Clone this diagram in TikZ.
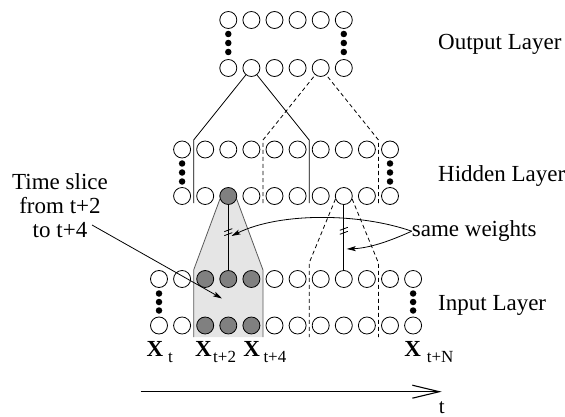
\documentclass[tikz,border=0pt]{standalone}
\usepackage{fontspec}
\setmainfont{Liberation Serif}
\usetikzlibrary{arrows.meta}
\pgfdeclarelayer{shade}
\pgfdeclarelayer{wires}
\pgfsetlayers{shade,wires,main}
\definecolor{actgrey}{RGB}{128,128,128}
\definecolor{slicefill}{RGB}{229,229,229}
\definecolor{sliceedge}{RGB}{90,90,90}

\begin{document}
\begin{tikzpicture}[x=1pt,y=-1pt,
  unit/.style={circle,draw,fill=white,line width=0.8pt,minimum size=17pt,inner sep=0pt},
  active/.style={unit,fill=actgrey},
  dotmark/.style={circle,fill=black,inner sep=0pt,minimum size=6.5pt},
  wire/.style={line width=0.8pt},
  dwire/.style={wire,dash pattern=on 4pt off 3pt},
  edge/.style={line width=0.8pt,draw=sliceedge},
  tip/.style={-{Stealth[length=9pt,width=5pt,inset=2pt]}},
  lbl/.style={font=\fontsize{23}{24}\selectfont,inner sep=0pt},
  xlbl/.style={font=\fontsize{23}{24}\selectfont\bfseries,inner sep=0pt,anchor=base},
  sublbl/.style={font=\fontsize{17}{18}\selectfont,inner sep=0pt,anchor=base west}]
\useasboundingbox (0,0) rectangle (565,417);

% ---------- input layer (12 time steps) ----------
\foreach \i/\s in {1/unit,2/unit,3/active,4/active,5/active,6/unit,7/unit,8/unit,9/unit,10/unit,11/unit,12/unit} {
  \pgfmathsetmacro\px{159+23.1*(\i-1)}
  \node[\s] (it\i) at (\px,279) {};
  \node[\s] (ib\i) at (\px,325.5) {};
}
% ---------- hidden layer ----------
\foreach \i/\s in {2/unit,3/unit,4/active,5/unit,6/unit,7/unit,8/unit,9/unit,10/unit,11/unit} {
  \pgfmathsetmacro\px{159+23.1*(\i-1)}
  \node[unit] (ht\i) at (\px,149.5) {};
  \node[\s] (hb\i) at (\px,196) {};
}
% ---------- output layer ----------
\foreach \i in {4,...,9} {
  \pgfmathsetmacro\px{159+23.1*(\i-1)}
  \node[unit] (ot\i) at (\px,20) {};
  \node[unit] (ob\i) at (\px,68) {};
}

% vertical ellipsis dots
\foreach \y in {293.5,302,310.5} {
  \node[dotmark] (di1-\y) at (159,\y) {};
  \node[dotmark] (di12-\y) at (413.1,\y) {};
}
\foreach \y in {163.5,172.5,181.5} {
  \node[dotmark] (dh2-\y) at (182.1,\y) {};
  \node[dotmark] (dh11-\y) at (390,\y) {};
}
\foreach \y in {34,43,52} {
  \node[dotmark] (do4-\y) at (228.3,\y) {};
  \node[dotmark] (do9-\y) at (343.8,\y) {};
}

% window boundaries in the hidden layer
\coordinate (hA1) at (193.65,140); \coordinate (hA2) at (193.65,203);
\coordinate (hB1) at (263,140);    \coordinate (hB2) at (263,203);
\coordinate (hC1) at (309.15,140); \coordinate (hC2) at (309.15,203);
\coordinate (hD1) at (378.45,140); \coordinate (hD2) at (378.45,203);

% window boundaries in the input layer
\coordinate (iA1) at (193.65,270); \coordinate (iA2) at (193.65,337);
\coordinate (iB1) at (263,270);    \coordinate (iB2) at (263,337);
\coordinate (iC1) at (309.15,263); \coordinate (iC2) at (309.15,337);
\coordinate (iD1) at (378.45,263); \coordinate (iD2) at (378.45,337);

% shaded time slice
\begin{pgfonlayer}{shade}
  \fill[slicefill] (iA2) -- (iA1) -- (hb4.200) -- (hb4.-20) -- (iB1) -- (iB2) -- cycle;
  \draw[edge] (iA2) -- (iA1) -- (hb4.200);
  \draw[edge] (iB2) -- (iB1) -- (hb4.-20);
\end{pgfonlayer}

\begin{pgfonlayer}{wires}
  % hidden windows feeding the output units
  \draw[wire] (hA2) -- (hA1) -- (ob5.center);
  \draw[wire] (hC2) -- (hC1) -- (ob5.center);
  \draw[dwire] (hB2) -- (hB1) -- (ob8.center);
  \draw[dwire] (hD2) -- (hD1) -- (ob8.center);
  % input windows feeding the hidden units
  \draw[dwire] (hb9.200) -- (iC1) -- (iC2);
  \draw[dwire] (hb9.-20) -- (iD1) -- (iD2);
  \draw[wire] (hb4) -- (it4);
  \draw[wire] (hb9) -- (it9);
\end{pgfonlayer}

% shared-weight tick marks
\path (hb4) -- (it4) coordinate[pos=0.41] (m4);
\path (hb9) -- (it9) coordinate[pos=0.39] (m9);
\foreach \m in {m4,m9} {
  \draw[wire] ([shift={(-4,0)}]\m) -- ([shift={(4,-3)}]\m);
  \draw[wire] ([shift={(-4,4)}]\m) -- ([shift={(4,1)}]\m);
}

% layer captions
\node[lbl,anchor=base west] (outlbl) at (438,49.3) {Output Layer};
\node[lbl,anchor=base west] (hidlbl) at (438,181.7) {Hidden Layer};
\node[lbl,anchor=base west] (inlbl) at (438,310) {Input Layer};

% time slice note
\node[lbl,align=center,anchor=north] (slice) at (60,173) {Time slice\\from t+2\\to t+4};
\coordinate (slicestart) at (92,225);
\coordinate (slicetip) at (222,298.5);
\draw[wire,tip] (slicestart) -- (slicetip);

% shared weights note
\node[lbl,anchor=base west] (sw) at (411.7,236.7) {same weights};
\coordinate (swtip1) at (231.5,236);
\coordinate (swtip2) at (346.7,249);
\draw[wire,tip] (sw.west) .. controls (360,213) and (280,212) .. (swtip1);
\draw[wire,tip] (sw.west) .. controls (390,241) and (370,248) .. (swtip2);

% time step labels
\node[xlbl] (x1) at (155,356.7) {X};
\node[sublbl] (x1s) at (168,362.5) {t};
\node[xlbl] (x3) at (203.4,356.7) {X};
\node[sublbl] (x3s) at (213,362.5) {t+2};
\node[xlbl] (x5) at (251.6,356.7) {X};
\node[sublbl] (x5s) at (263.3,362.5) {t+4};
\node[xlbl] (x12) at (412.6,356.7) {X};
\node[sublbl] (x12s) at (426.7,362.5) {t+N};

% time axis
\coordinate (t0) at (140.7,391.7);
\coordinate (t1) at (441.7,391.7);
\draw[line width=1.5pt,-{Straight Barb[length=27pt,width=13pt,line width=1.1pt]}] (t0) -- (t1);
\node[font=\fontsize{21}{22}\selectfont,inner sep=0pt,anchor=base] (tlbl) at (441.7,413) {t};
\end{tikzpicture}
\end{document}
